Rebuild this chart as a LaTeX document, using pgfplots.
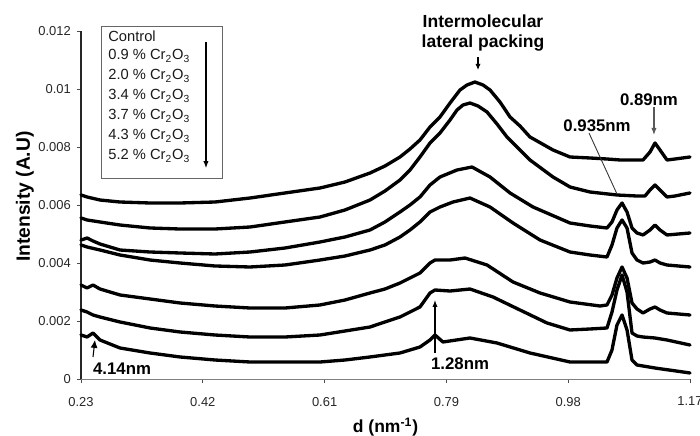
\documentclass[border=0pt]{standalone}
\usepackage{fontspec}
\setmainfont{Liberation Sans}
\usepackage{pgfplots}
\pgfplotsset{compat=1.18}
\usetikzlibrary{arrows.meta}

\begin{document}
\begin{tikzpicture}
\useasboundingbox (-46.29pt,-32.57pt) rectangle (353.71pt,216.57pt);
\begin{axis}[
  scale only axis, width=348pt, height=198.86pt,
  at={(0,0)}, anchor=south west,
  xmin=0.23, xmax=1.17, ymin=0, ymax=0.012,
  axis x line=bottom, axis y line=left,
  axis line style={-},
  x axis line style={black!50, line width=0.5pt},
  y axis line style={black!85, line width=0.6pt},
  xtick={0.23,0.418,0.606,0.794,0.982,1.17},
  xticklabels={0.23,0.42,0.61,0.79,0.98,1.17},
  ytick={0,0.002,0.004,0.006,0.008,0.01,0.012},
  yticklabels={0,0.002,0.004,0.006,0.008,0.01,0.012},
  scaled y ticks=false,
  tick align=outside, major tick length=2.3pt,
  tick style={black!70, line width=0.5pt},
  tick label style={font=\fontsize{7.4}{8}\selectfont, text=black!85},
  xticklabel style={yshift=-4.5pt},
  xlabel={d (nm\textsuperscript{-1})},
  xlabel style={at={(axis description cs:0.5,-0.138)}, anchor=center, font=\fontsize{10}{12}\selectfont\bfseries},
  ylabel={Intensity (A.U)},
  ylabel style={at={(axis description cs:-0.092,0.524)}, anchor=center, font=\fontsize{11}{13}\selectfont\bfseries},
  clip=false,
  cycle list={{black, solid, no markers}},
  every axis plot post/.append style={black, solid, mark=none, line width=1.9pt, line join=round, line cap=round},
]

% Control
\addplot coordinates {
(0.2300,0.006345) (0.2393,0.006276) (0.2593,0.006172) (0.2902,0.006103)
(0.3365,0.006069) (0.3828,0.006069) (0.4368,0.006103) (0.4909,0.006241)
(0.5449,0.006414) (0.5989,0.006586) (0.6375,0.006793) (0.6761,0.007103)
(0.6992,0.007345) (0.7224,0.007655) (0.7378,0.007931) (0.7532,0.008241)
(0.7687,0.008690) (0.7841,0.009035) (0.7996,0.009517) (0.8150,0.009966)
(0.8258,0.010138) (0.8381,0.010241) (0.8505,0.010138) (0.8613,0.009966)
(0.8767,0.009552) (0.8922,0.009035) (0.9076,0.008724) (0.9230,0.008345)
(0.9585,0.007897) (0.9848,0.007655) (1.0156,0.007621) (1.0419,0.007586)
(1.0620,0.007552) (1.0975,0.007552) (1.1083,0.007828) (1.1160,0.008138)
(1.1237,0.007897) (1.1345,0.007552) (1.1468,0.007586) (1.1700,0.007655)
};
% 0.9 % Cr2O3
\addplot coordinates {
(0.2300,0.005552) (0.2393,0.005483) (0.2593,0.005414) (0.2902,0.005310)
(0.3365,0.005207) (0.3828,0.005172) (0.4368,0.005172) (0.4909,0.005241)
(0.5449,0.005414) (0.5989,0.005586) (0.6375,0.005828) (0.6761,0.006172)
(0.6992,0.006483) (0.7224,0.006862) (0.7378,0.007207) (0.7532,0.007655)
(0.7687,0.008138) (0.7841,0.008483) (0.7996,0.008931) (0.8104,0.009276)
(0.8196,0.009448) (0.8304,0.009517) (0.8428,0.009414) (0.8567,0.009207)
(0.8721,0.008793) (0.8875,0.008345) (0.9076,0.007897) (0.9230,0.007552)
(0.9585,0.006966) (0.9848,0.006621) (1.0156,0.006448) (1.0573,0.006345)
(1.0882,0.006310) (1.1005,0.006310) (1.1083,0.006517) (1.1160,0.006690)
(1.1237,0.006517) (1.1345,0.006276) (1.1468,0.006310) (1.1700,0.006414)
};
% 2.0 % Cr2O3
\addplot coordinates {
(0.2300,0.004793) (0.2393,0.004862) (0.2485,0.004759) (0.2593,0.004655)
(0.2902,0.004448) (0.3365,0.004379) (0.3828,0.004345) (0.4368,0.004310)
(0.4909,0.004379) (0.5449,0.004517) (0.5989,0.004724) (0.6375,0.004897)
(0.6761,0.005138) (0.6992,0.005414) (0.7224,0.005759) (0.7378,0.006000)
(0.7532,0.006276) (0.7687,0.006690) (0.7841,0.006966) (0.8104,0.007207)
(0.8335,0.007310) (0.8613,0.006966) (0.8922,0.006414) (0.9277,0.005931)
(0.9848,0.005379) (1.0156,0.005276) (1.0419,0.005207) (1.0496,0.005414)
(1.0573,0.005828) (1.0651,0.006069) (1.0728,0.005759) (1.0805,0.005207)
(1.0882,0.005034) (1.0975,0.004966) (1.1083,0.005138) (1.1160,0.005310)
(1.1237,0.005138) (1.1345,0.004966) (1.1700,0.005034)
};
% 3.4 % Cr2O3
\addplot coordinates {
(0.2300,0.004621) (0.2393,0.004552) (0.2593,0.004448) (0.2902,0.004276)
(0.3365,0.004103) (0.3828,0.004000) (0.4368,0.003897) (0.4909,0.003862)
(0.5449,0.003931) (0.5989,0.004103) (0.6375,0.004241) (0.6761,0.004448)
(0.6992,0.004621) (0.7224,0.004897) (0.7378,0.005138) (0.7532,0.005414)
(0.7687,0.005759) (0.7841,0.005931) (0.8042,0.006103) (0.8304,0.006241)
(0.8613,0.005931) (0.8968,0.005379) (0.9385,0.004793) (0.9848,0.004379)
(1.0156,0.004276) (1.0419,0.004207) (1.0496,0.004621) (1.0573,0.005207)
(1.0651,0.005483) (1.0728,0.005207) (1.0805,0.004345) (1.0882,0.004103)
(1.0975,0.004000) (1.1083,0.004034) (1.1160,0.004103) (1.1237,0.004000)
(1.1345,0.003931) (1.1700,0.003862)
};
% 3.7 % Cr2O3
\addplot coordinates {
(0.2300,0.003241) (0.2393,0.003138) (0.2485,0.003241) (0.2593,0.003103)
(0.2902,0.002897) (0.3365,0.002759) (0.3828,0.002621) (0.4368,0.002517)
(0.4909,0.002448) (0.5449,0.002448) (0.5989,0.002552) (0.6375,0.002724)
(0.6761,0.002966) (0.6992,0.003103) (0.7224,0.003310) (0.7378,0.003483)
(0.7532,0.003655) (0.7687,0.004000) (0.7764,0.004103) (0.7996,0.004103)
(0.8227,0.004172) (0.8567,0.003931) (0.8968,0.003345) (0.9385,0.002966)
(0.9848,0.002655) (1.0311,0.002517) (1.0419,0.002552) (1.0496,0.002897)
(1.0573,0.003483) (1.0651,0.003862) (1.0728,0.003483) (1.0805,0.002621)
(1.0882,0.002414) (1.0975,0.002276) (1.1083,0.002414) (1.1160,0.002483)
(1.1237,0.002379) (1.1345,0.002276) (1.1700,0.002207)
};
% 4.3 % Cr2O3
\addplot coordinates {
(0.2300,0.002379) (0.2393,0.002310) (0.2485,0.002207) (0.2593,0.002138)
(0.2902,0.001966) (0.3365,0.001759) (0.3828,0.001621) (0.4368,0.001517)
(0.4909,0.001448) (0.5449,0.001448) (0.5989,0.001517) (0.6375,0.001655)
(0.6761,0.001793) (0.6992,0.001966) (0.7224,0.002138) (0.7378,0.002310)
(0.7532,0.002483) (0.7687,0.002966) (0.7764,0.003069) (0.7996,0.003034)
(0.8304,0.003103) (0.8659,0.002828) (0.9076,0.002379) (0.9493,0.001931)
(0.9848,0.001690) (1.0156,0.001724) (1.0419,0.001759) (1.0496,0.002310)
(1.0573,0.003069) (1.0651,0.003586) (1.0728,0.003000) (1.0805,0.001586)
(1.0882,0.001483) (1.0975,0.001448) (1.1160,0.001414) (1.1345,0.001345)
(1.1700,0.001172)
};
% 5.2 % Cr2O3
\addplot coordinates {
(0.2300,0.001517) (0.2393,0.001448) (0.2485,0.001586) (0.2593,0.001345)
(0.2902,0.001069) (0.3365,0.000897) (0.3828,0.000759) (0.4368,0.000655)
(0.4909,0.000586) (0.5449,0.000586) (0.5989,0.000586) (0.6375,0.000655)
(0.6761,0.000759) (0.6992,0.000828) (0.7224,0.000897) (0.7378,0.001000)
(0.7532,0.001103) (0.7687,0.001345) (0.7764,0.001517) (0.7887,0.001276)
(0.8304,0.001414) (0.8721,0.001241) (0.9230,0.000897) (0.9848,0.000586)
(1.0156,0.000586) (1.0419,0.000586) (1.0496,0.001000) (1.0573,0.001862)
(1.0651,0.002207) (1.0728,0.001690) (1.0805,0.000655) (1.0882,0.000483)
(1.1160,0.000379) (1.1700,0.000207)
};

% legend box
\draw[black!60, line width=0.5pt] (axis cs:0.2609,0.00693) rectangle (axis cs:0.4476,0.01217);
\begin{scope}[every node/.style={anchor=west, inner sep=0pt, font=\fontsize{8.4}{10}\selectfont, text=black!90}]
\node at (axis cs:0.2717,0.011828) {Control};
\node at (axis cs:0.2717,0.011138) {0.9 \% Cr\textsubscript{2}O\textsubscript{3}};
\node at (axis cs:0.2717,0.010448) {2.0 \% Cr\textsubscript{2}O\textsubscript{3}};
\node at (axis cs:0.2717,0.009759) {3.4 \% Cr\textsubscript{2}O\textsubscript{3}};
\node at (axis cs:0.2717,0.009069) {3.7 \% Cr\textsubscript{2}O\textsubscript{3}};
\node at (axis cs:0.2717,0.008379) {4.3 \% Cr\textsubscript{2}O\textsubscript{3}};
\node at (axis cs:0.2717,0.007690) {5.2 \% Cr\textsubscript{2}O\textsubscript{3}};
\end{scope}
\draw[-{Latex[length=4pt,width=3pt]}, line width=0.6pt] (axis cs:0.4229,0.01162) -- (axis cs:0.4229,0.00727);

% annotations
\begin{scope}[every node/.style={inner sep=0pt, font=\fontsize{9.6}{11}\selectfont\bfseries}]
\node[font=\fontsize{10}{12}\selectfont\bfseries] at (axis cs:0.8505,0.012345) {Intermolecular};
\node[font=\fontsize{10}{12}\selectfont\bfseries] at (axis cs:0.8505,0.011586) {lateral packing};
\node at (axis cs:1.1067,0.009621) {0.89nm};
\node at (axis cs:1.0265,0.008724) {0.935nm};
\node at (axis cs:0.8150,0.000517) {1.28nm};
\node at (axis cs:0.2933,0.000345) {4.14nm};
\end{scope}
\draw[-{Latex[length=3.5pt,width=3pt]}, line width=0.6pt] (axis cs:0.8428,0.011103) -- (axis cs:0.8428,0.010655);
\draw[-{Latex[length=4pt,width=3pt]}, black!65, line width=0.6pt] (axis cs:1.1144,0.009379) -- (axis cs:1.1144,0.008414);
\draw[black!80, line width=0.5pt] (axis cs:1.0141,0.008483) -- (axis cs:1.0573,0.006379);
\draw[-{Latex[length=4pt,width=3pt]}, line width=0.6pt] (axis cs:0.7764,0.000897) -- (axis cs:0.7764,0.002724);
\draw[-{Latex[length=4.5pt,width=4pt]}, line width=0.6pt] (axis cs:0.2485,0.000759) -- (axis cs:0.2516,0.001345);
\end{axis}
\end{tikzpicture}
\end{document}
